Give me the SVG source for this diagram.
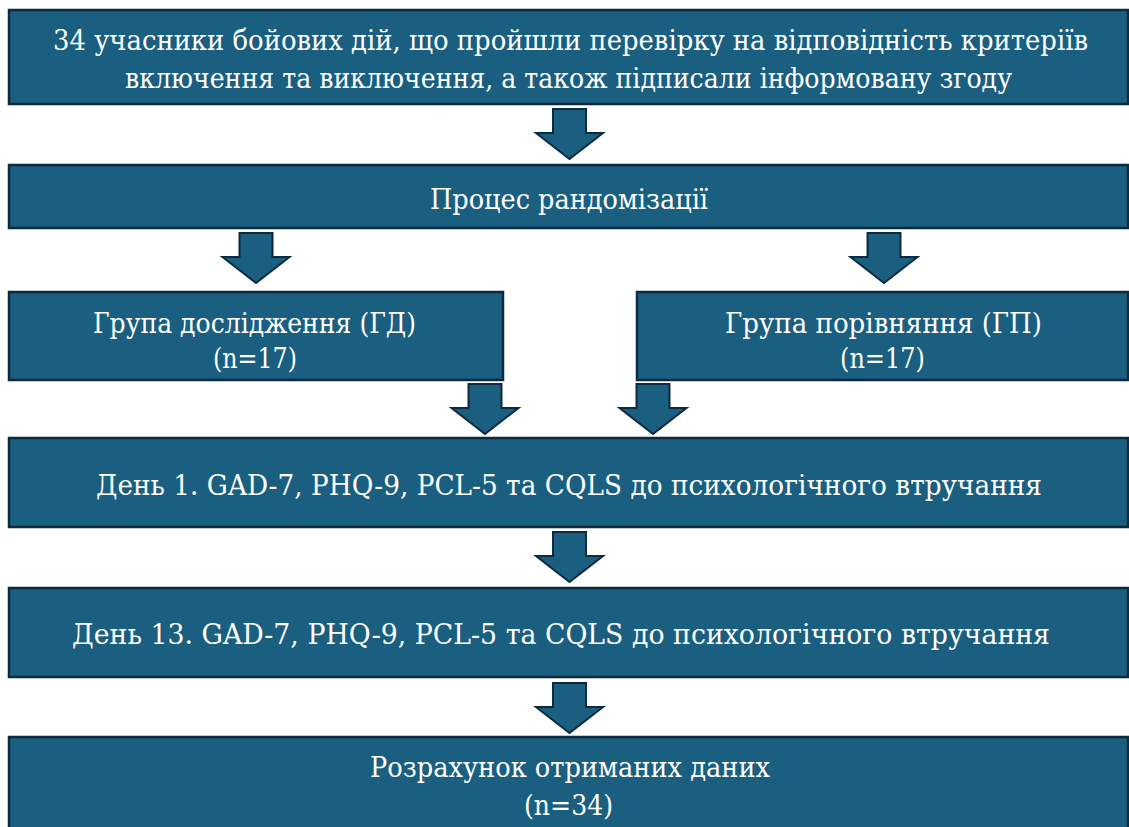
<svg xmlns="http://www.w3.org/2000/svg" xmlns:xlink="http://www.w3.org/1999/xlink" width="1129" height="827" viewBox="0 0 1129 827">
<style>
.box{fill:#1a5e80;stroke:#0c2b3f;stroke-width:2.5}
.arr{fill:#1a5e80;stroke:#0c2b3f;stroke-width:2;stroke-linejoin:miter}
.t{fill:#ffffff;font-family:"DejaVu Serif","Liberation Serif",serif;font-size:27px;text-anchor:middle}
</style>
<defs>
<polygon id="arrow" class="arr" points="-16.5,0 16.5,0 16.5,24 33.5,24 0,50 -33.5,24 -16.5,24"/>
</defs>
<rect width="1129" height="827" fill="#ffffff"/>
<g id="connectors">
<use xlink:href="#arrow" transform="translate(569.5,109)"/>
<use xlink:href="#arrow" transform="translate(256,233)"/>
<use xlink:href="#arrow" transform="translate(884,233)"/>
<use xlink:href="#arrow" transform="translate(485,384)"/>
<use xlink:href="#arrow" transform="translate(653,384)"/>
<use xlink:href="#arrow" transform="translate(569.5,532)"/>
<use xlink:href="#arrow" transform="translate(569.5,683)"/>
</g>
<g id="n1">
<rect class="box" x="9" y="10" width="1119" height="94"/>
<text class="t" x="570.5" y="50" textLength="1035" lengthAdjust="spacingAndGlyphs">34 учасники бойових дій, що пройшли перевірку на відповідність критеріїв</text>
<text class="t" x="568.5" y="88" textLength="887" lengthAdjust="spacingAndGlyphs">включення та виключення, а також підписали інформовану згоду</text>
</g>
<g id="n2">
<rect class="box" x="9" y="165" width="1119" height="63"/>
<text class="t" x="569" y="209" textLength="278" lengthAdjust="spacingAndGlyphs">Процес рандомізації</text>
</g>
<g id="n3">
<rect class="box" x="9" y="292" width="494" height="88"/>
<text class="t" x="254.5" y="333" textLength="323" lengthAdjust="spacingAndGlyphs">Група дослідження (ГД)</text>
<text class="t" x="255" y="368" textLength="84" lengthAdjust="spacingAndGlyphs">(n=17)</text>
</g>
<g id="n4">
<rect class="box" x="637" y="292" width="491" height="88"/>
<text class="t" x="883.5" y="333" textLength="317" lengthAdjust="spacingAndGlyphs">Група порівняння (ГП)</text>
<text class="t" x="882.5" y="368" textLength="85" lengthAdjust="spacingAndGlyphs">(n=17)</text>
</g>
<g id="n5">
<rect class="box" x="9" y="438" width="1119" height="89"/>
<text class="t" x="569" y="495" textLength="946" lengthAdjust="spacingAndGlyphs">День 1. GAD-7, PHQ-9, PCL-5 та CQLS до психологічного втручання</text>
</g>
<g id="n6">
<rect class="box" x="9" y="588" width="1119" height="89"/>
<text class="t" x="561" y="644" textLength="978" lengthAdjust="spacingAndGlyphs">День 13. GAD-7, PHQ-9, PCL-5 та CQLS до психологічного втручання</text>
</g>
<g id="n7">
<rect class="box" x="9" y="737" width="1119" height="100"/>
<text class="t" x="570" y="777" textLength="400" lengthAdjust="spacingAndGlyphs">Розрахунок отриманих даних</text>
<text class="t" x="568.5" y="815" textLength="89" lengthAdjust="spacingAndGlyphs">(n=34)</text>
</g>
</svg>
